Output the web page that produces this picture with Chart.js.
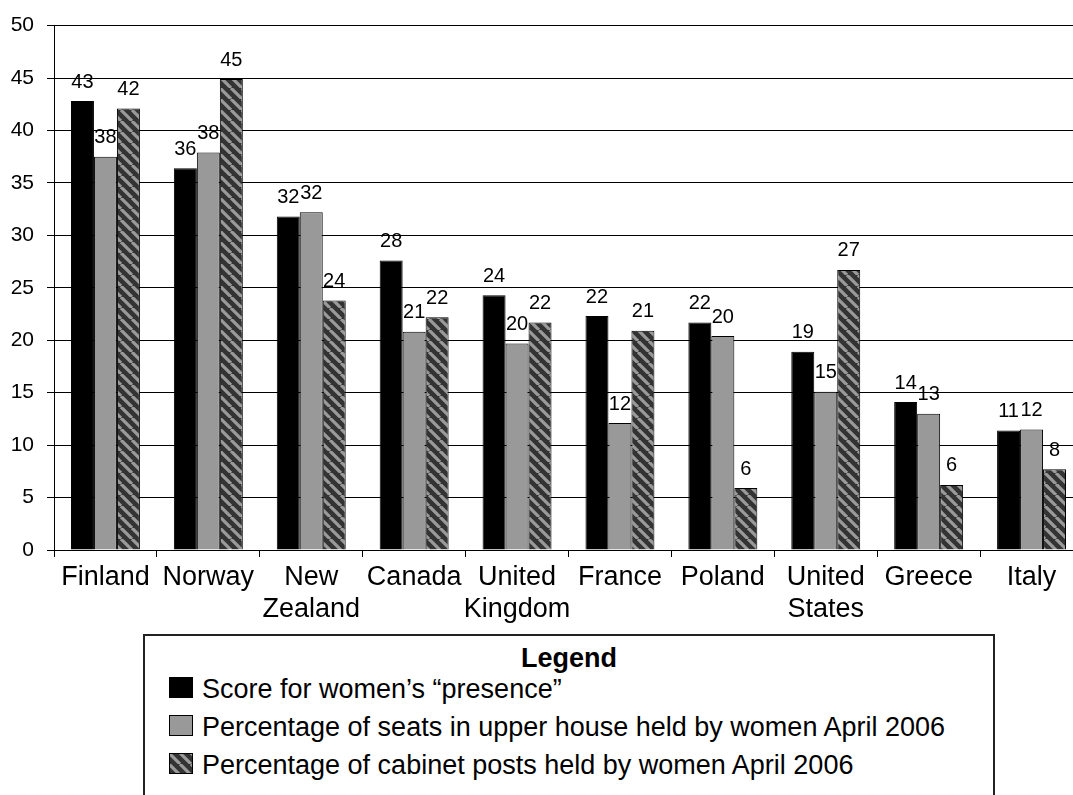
<!DOCTYPE html>
<html>
<head>
<meta charset="utf-8">
<title>Women's presence in politics</title>
<script src="https://cdn.jsdelivr.net/npm/chart.js@4.4.1/dist/chart.umd.min.js"></script>
<style>
  html, body { margin: 0; padding: 0; background: #fff; overflow: hidden; }
  #wrap { position: relative; width: 1073px; height: 795px; overflow: hidden; }
  #chart { position: absolute; left: 0; top: 0; }
  #legend {
    position: absolute; left: 143px; top: 634px; width: 848px; height: 200px;
    border: 2px solid #222; background: #fff;
    font-family: "Liberation Sans", Arial, sans-serif; color: #000;
  }
  #legend .title { position: absolute; left: 0; right: 0; top: 7px; text-align: center; font-weight: bold; font-size: 27px; }
  #legend .item { position: absolute; left: 24px; height: 38px; line-height: 38px; font-size: 27px; white-space: nowrap; }
  #legend .item canvas { display: inline-block; vertical-align: middle; margin-right: 9px; position: relative; top: -3px; }
</style>
</head>
<body>
<div id="wrap">
  <canvas id="chart" width="1100" height="795"></canvas>
  <div id="legend"><div class="title">Legend</div></div>
</div>
<script>
// categories and values
const countries = ['Finland', 'Norway', ['New', 'Zealand'], 'Canada', ['United', 'Kingdom'],
  'France', 'Poland', ['United', 'States'], 'Greece', 'Italy'];
const presenceScore = [42.8, 36.4, 31.8, 27.6, 24.3, 22.3, 21.7, 18.9, 14.1, 11.4];
const upperHouseSeats = [37.5, 37.9, 32.2, 20.8, 19.7, 12.1, 20.4, 15.1, 13.0, 11.5];
const cabinetPosts = [42.1, 44.9, 23.8, 22.2, 21.7, 20.9, 5.9, 26.7, 6.2, 7.7];
const seriesNames = [
  'Score for women\u2019s \u201cpresence\u201d',
  'Percentage of seats in upper house held by women April 2006',
  'Percentage of cabinet posts held by women April 2006'
];
const yTicks = [0, 5, 10, 15, 20, 25, 30, 35, 40, 45, 50];

const FONT = '"Liberation Sans", Arial, sans-serif';

function makeHatch() {
  const s = 11;
  const c = document.createElement('canvas');
  c.width = s; c.height = s;
  const g = c.getContext('2d');
  g.fillStyle = '#333';
  g.fillRect(0, 0, s, s);
  g.strokeStyle = '#9a9a9a';
  g.lineWidth = 3.2;
  g.beginPath();
  for (let k = -1; k <= 1; k++) {
    g.moveTo(k * s, 0);
    g.lineTo(k * s + s, s);
  }
  g.stroke();
  return document.getElementById('chart').getContext('2d').createPattern(c, 'repeat');
}

const hatch = makeHatch();
const fills = ['#000000', '#999999', hatch];

const barLabels = {
  id: 'barLabels',
  afterDatasetsDraw(chart) {
    const ctx = chart.ctx;
    ctx.save();
    ctx.font = '20px ' + FONT;
    ctx.fillStyle = '#000';
    ctx.textAlign = 'center';
    ctx.textBaseline = 'alphabetic';
    chart.data.datasets.forEach((ds, i) => {
      chart.getDatasetMeta(i).data.forEach((bar, j) => {
        ctx.fillText(String(Math.round(ds.data[j])), bar.x, bar.y - 13.5);
      });
    });
    ctx.restore();
  }
};

const chart = new Chart(document.getElementById('chart'), {
  type: 'bar',
  data: {
    labels: countries,
    datasets: [presenceScore, upperHouseSeats, cabinetPosts].map((d, i) => ({
      label: seriesNames[i],
      data: d,
      backgroundColor: fills[i],
      borderColor: '#000',
      borderWidth: 1,
      categoryPercentage: 0.67,
      barPercentage: 1.0
    }))
  },
  options: {
    responsive: false,
    devicePixelRatio: 1,
    animation: false,
    layout: { padding: { left: 0, right: 17, top: 16, bottom: 0 } },
    plugins: { legend: { display: false }, tooltip: { enabled: false } },
    scales: {
      x: {
        grid: { drawOnChartArea: false, drawTicks: true, tickLength: 7, color: '#000', offset: true },
        border: { color: '#000', width: 1 },
        ticks: { color: '#000', font: { family: FONT, size: 27, lineHeight: 1.2 }, padding: 4, maxRotation: 0, autoSkip: false },
        afterFit(s) { s.height = 245; }
      },
      y: {
        min: 0, max: 50,
        afterBuildTicks(s) { s.ticks = yTicks.map(v => ({ value: v })); },
        grid: { color: '#000', lineWidth: 1, tickLength: 7 },
        border: { color: '#000', width: 1 },
        ticks: { color: '#000', font: { family: FONT, size: 21 }, padding: 13 },
        afterFit(s) { s.width = 54; }
      }
    }
  },
  plugins: [barLabels]
});

// legend box built from the datasets
const legendEl = document.getElementById('legend');
chart.data.datasets.forEach((ds, i) => {
  const row = document.createElement('div');
  row.className = 'item';
  row.style.top = (34 + i * 38) + 'px';
  const sw = document.createElement('canvas');
  sw.width = 24; sw.height = 21;
  const g = sw.getContext('2d');
  g.fillStyle = ds.backgroundColor;
  g.fillRect(0, 0, 24, 21);
  g.strokeStyle = '#000';
  g.lineWidth = 1;
  g.strokeRect(0.5, 0.5, 23, 20);
  row.appendChild(sw);
  row.appendChild(document.createTextNode(ds.label));
  legendEl.appendChild(row);
});
</script>
</body>
</html>
